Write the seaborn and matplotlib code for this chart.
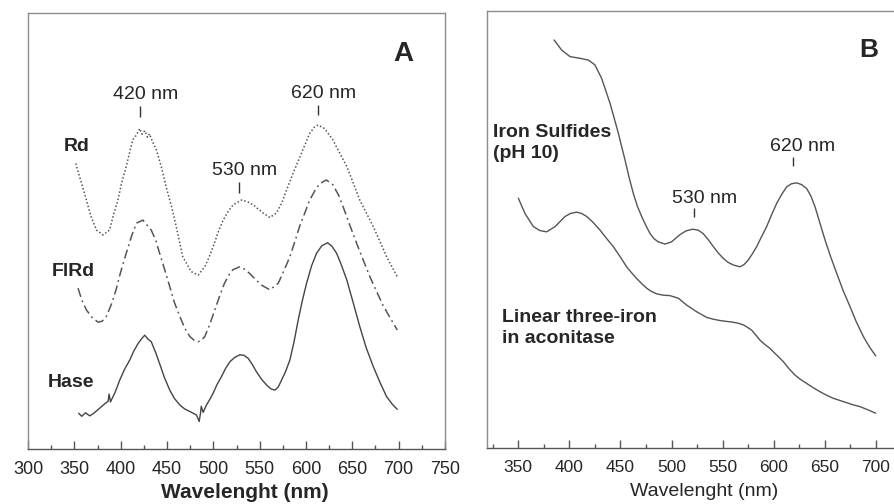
import matplotlib
matplotlib.use("Agg")
import matplotlib.pyplot as plt
import seaborn as sns
from matplotlib.ticker import MultipleLocator

# ---------------- Panel A data (wavelength nm, arbitrary absorbance) ----------------
rd_wl = [351.5, 357, 363, 368, 374, 381, 388, 392, 397, 401, 406, 413, 417, 420.6, 423, 426, 429, 431, 435, 438.6,
         444, 449, 455, 460, 467, 476, 483.6, 490.8, 495, 499.8, 505, 510.6, 516, 521.4, 530.4, 537, 543, 553.8, 561, 568,
         574, 579, 586, 595, 604, 609, 613, 620, 629, 636, 644, 651, 658, 665, 672.6, 680, 687, 698.5]
rd_abs = [65.5, 61.5, 57.1, 53.3, 50.2, 49.1, 50.2, 53.5, 57.1, 61.0, 64.8, 70.9, 72.0, 73.5, 72.2, 73.0, 71.5, 72.3, 70.2, 68.6,
          64.6, 60.2, 55.5, 51.0, 44.1, 40.7, 39.9, 41.8, 43.8, 46.4, 49.6, 52.5, 54.5, 56.0, 57.1, 56.7, 56.0, 54.1, 53.1, 54.1,
          56.5, 59.4, 63.2, 67.8, 72.4, 73.8, 74.3, 73.5, 70.9, 68.0, 64.8, 61.0, 57.1, 54.2, 51.0, 47.5, 44.1, 39.5]

flrd_wl = [354, 358, 363, 369, 375.6, 380, 384.6, 390, 395, 400, 406, 412, 417, 424, 433, 438, 442, 448, 453,
           458, 463.8, 469, 474.6, 479, 483.6, 487, 490.8, 496, 501.6, 507, 512, 517, 521, 528.6, 534, 539,
           545, 552, 561, 570, 576, 582.6, 588, 593, 599, 604, 610, 615, 622, 629, 635, 640, 647, 654.6,
           662, 669, 676, 683, 691, 698.5]
flrd_abs = [36.9, 34.2, 31.9, 30.2, 29.1, 29.3, 30.4, 33.2, 36.5, 40.6, 44.9, 49.0, 51.8, 52.5, 50.2, 47.8, 44.9, 40.8, 37.2,
            33.6, 30.4, 27.8, 25.8, 25.0, 24.6, 24.9, 25.8, 28.5, 31.9, 35.2, 38.0, 40.0, 41.1, 41.8, 41.2, 40.3,
            39.0, 37.6, 36.5, 38.0, 40.8, 44.1, 47.6, 51.0, 54.3, 57.1, 59.4, 60.9, 61.7, 60.6, 58.3, 55.6, 51.5, 47.2,
            43.2, 39.5, 36.2, 33.0, 30.0, 27.3]

hase_wl = [354.7, 358, 362, 366.6, 371, 377, 383, 386.4, 387.5, 389, 394, 399, 404, 409.8, 414, 418.8, 423, 426,
           429, 433, 438, 442, 447, 453, 458, 463.8, 469, 474.6, 481.8, 484.7, 486, 487, 489, 492.6, 496, 499.8,
           504, 508.8, 513, 517.8, 523, 528.6, 533, 537.6, 542, 546.6, 552, 557.4, 562, 566.4, 570, 573.6, 578,
           582.6, 587, 591.6, 596, 600.6, 606, 611.4, 617, 623.3, 628, 633, 638, 644, 651, 658, 665, 672.6, 680,
           687, 693, 698.5]
hase_abs = [8.2, 7.5, 8.3, 7.6, 8.2, 9.3, 10.4, 10.9, 12.6, 10.8, 13.0, 15.8, 18.2, 20.4, 22.4, 24.2, 25.4, 26.1,
            25.3, 24.6, 22.0, 19.6, 16.5, 13.5, 11.6, 10.1, 9.2, 8.6, 7.8, 6.3, 8.0, 9.8, 8.4, 10.1, 11.3, 12.8,
            14.8, 16.6, 18.4, 20.0, 21.0, 21.6, 21.5, 20.8, 19.4, 17.7, 16.0, 14.7, 13.8, 13.5, 14.2, 15.8, 17.8,
            20.4, 24.5, 29.6, 34.0, 38.0, 42.0, 44.9, 46.6, 47.3, 46.5, 44.9, 42.3, 38.8, 33.5, 28.1, 23.2, 18.9, 15.2,
            12.0, 10.3, 9.1]

# ---------------- Panel B data ----------------
fes_wl = [385, 392.4, 400.6, 410.4, 418.6, 425, 431.6, 435.5, 439.8, 444, 448, 454.5, 458.5, 462.6, 466.5, 470.8,
          475, 479, 483, 487, 493.6, 500, 508, 514, 520.7, 526, 531, 536, 541, 546, 550.8, 555.5, 560.6, 567, 571,
          575, 579, 583.4, 588, 593.2, 598, 603, 608, 612.8, 617.5, 622.6, 627.5, 632.4, 636.5, 640.6, 645.5,
          650.4, 656, 661.8, 668, 674.8, 681, 688, 694, 700]
fes_abs = [93.3, 91.0, 89.5, 89.1, 88.7, 87.6, 84.5, 81.8, 78.8, 75.3, 71.9, 65.8, 61.8, 58.2, 55.3, 52.9,
           50.8, 49.0, 47.8, 47.1, 46.6, 47.1, 48.7, 49.6, 50.0, 49.8, 49.0, 47.6, 46.0, 44.5, 43.3, 42.4, 41.8, 41.4,
           41.9, 42.9, 44.3, 46.0, 48.2, 50.6, 53.3, 55.9, 58.0, 59.7, 60.4, 60.6, 60.2, 59.3, 57.6, 55.1, 51.3,
           47.5, 43.6, 39.9, 36.0, 32.3, 28.8, 25.4, 23.0, 21.0]

aco_wl = [350, 356.5, 364.7, 371, 377.7, 386, 395.7, 401, 407, 412, 417, 423, 430, 436, 443, 450, 456, 461, 466,
          471, 475.7, 480, 485.5, 492, 498.5, 506.7, 515, 524.7, 534.5, 541, 547.5, 554, 560.6, 565, 570.4, 574,
          578.5, 582.5, 586.7, 591, 596.5, 603, 609.5, 615, 621, 626.5, 632.4, 639, 645.5, 652, 658.5, 665, 671.6,
          678, 684.6, 692, 700]
aco_abs = [57.1, 53.6, 50.6, 49.7, 49.4, 50.6, 52.9, 53.6, 53.9, 53.6, 52.9, 51.6, 49.8, 48.0, 46.0, 43.6, 41.4,
           40.0, 38.7, 37.5, 36.5, 35.8, 35.2, 34.9, 34.8, 34.2, 32.6, 31.1, 29.8, 29.4, 29.1, 28.9, 28.7, 28.5,
           28.1, 27.6, 26.9, 25.8, 24.6, 23.7, 22.7, 21.2, 19.7, 18.1, 16.6, 15.6, 14.7, 13.7, 12.8, 12.0, 11.3,
           10.8, 10.3, 9.8, 9.4, 8.7, 7.9]

# peak annotations
peaks_A_label = ["420 nm", "530 nm", "620 nm"]
peaks_A_wl = [420.6, 527.5, 612.5]
peaks_A_base = [76.2, 58.8, 76.5]
peaks_B_label = ["530 nm", "620 nm"]
peaks_B_wl = [522, 618.7]
peaks_B_base = [52.7, 64.5]

ticks_A = [300, 350, 400, 450, 500, 550, 600, 650, 700, 750]
ticks_B = [350, 400, 450, 500, 550, 600, 650, 700]

sns.set_style("white")
plt.rcParams['font.family'] = ['Liberation Sans', 'DejaVu Sans']

fig = plt.figure(figsize=(8.94, 5.04), dpi=100)
axA = fig.add_axes([28/894, 55/504, 417/894, 436/504])
axB = fig.add_axes([487.3/894, 56.3/504, 406.7/894, 437/504])

spine_col = "#8c8c8c"

sns.lineplot(x=rd_wl, y=rd_abs, ax=axA, color="#555555", lw=1.1, linestyle=(0, (1, 1.4)), sort=False)
sns.lineplot(x=flrd_wl, y=flrd_abs, ax=axA, color="#555555", lw=1.1, linestyle=(0, (6, 2.5, 1.2, 2.5)), sort=False)
sns.lineplot(x=hase_wl, y=hase_abs, ax=axA, color="#444444", lw=1.0, sort=False)

sns.lineplot(x=fes_wl, y=fes_abs, ax=axB, color="#555555", lw=1.0, sort=False)
sns.lineplot(x=aco_wl, y=aco_abs, ax=axB, color="#555555", lw=1.0, sort=False)

for ax, xlim, ticks, fs in [(axA, (300, 750), ticks_A, 13), (axB, (319.6, 717.9), ticks_B, 12.5)]:
    ax.set_xlim(*xlim)
    ax.set_ylim(0, 100)
    ax.set_yticks([])
    ax.set_xticks(ticks)
    ax.xaxis.set_minor_locator(MultipleLocator(25))
    ax.tick_params(axis='x', which='major', direction='in', length=6, width=1, color="#555555",
                   labelsize=fs, pad=9, bottom=True)
    ax.tick_params(axis='x', which='minor', direction='in', length=3, width=1, color="#555555", bottom=True)
    for s in ax.spines.values():
        s.set_color(spine_col)
        s.set_linewidth(1.0)
    ax.spines['bottom'].set_color("#555555")
    ax.set_ylabel("")

axB.spines['right'].set_visible(False)

axA.set_xlabel("Wavelenght (nm)", fontsize=15, fontweight='bold')
axA.xaxis.set_label_coords((245 - 28) / 417, -(493 - 449) / 436)
axB.set_xlabel("Wavelenght (nm)", fontsize=14)
axB.xaxis.set_label_coords((703.8 - 487.3) / 406.7, -(491.7 - 447.7) / 437)
for ax in (axA, axB):
    ax.xaxis.label.set_va('center')

# Panel A annotations
axA.text(705, 90.7, "A", fontsize=20, fontweight='bold', ha='center', va='center')
axA.text(353, 69.3, "Rd", fontsize=14, fontweight='bold', ha='center', va='center')
axA.text(349, 40.7, "FlRd", fontsize=14, fontweight='bold', ha='center', va='center')
axA.text(346.8, 15.2, "Hase", fontsize=14, fontweight='bold', ha='center', va='center')
for lab, wl, base in zip(peaks_A_label, peaks_A_wl, peaks_A_base):
    axA.vlines(wl, base, base + 2.4, color="#333333", lw=1)
    axA.text(wl + 6, base + 5.0, lab, fontsize=14, ha='center', va='center')

# Panel B annotations
axB.text(692.8, 91.0, "B", fontsize=19, fontweight='bold', ha='center', va='center')
axB.text(324.9, 69.8, "Iron Sulfides\n(pH 10)", fontsize=14, fontweight='bold', ha='left', va='center',
         linespacing=1.3)
axB.text(334.3, 27.3, "Linear three-iron\nin aconitase", fontsize=14, fontweight='bold', ha='left',
         va='center', linespacing=1.3)
for lab, wl, base in zip(peaks_B_label, peaks_B_wl, peaks_B_base):
    axB.vlines(wl, base, base + 2.1, color="#333333", lw=1)
    axB.text(wl + 10, base + 4.4, lab, fontsize=14, ha='center', va='center')

fig.savefig("out.png", dpi=100)
